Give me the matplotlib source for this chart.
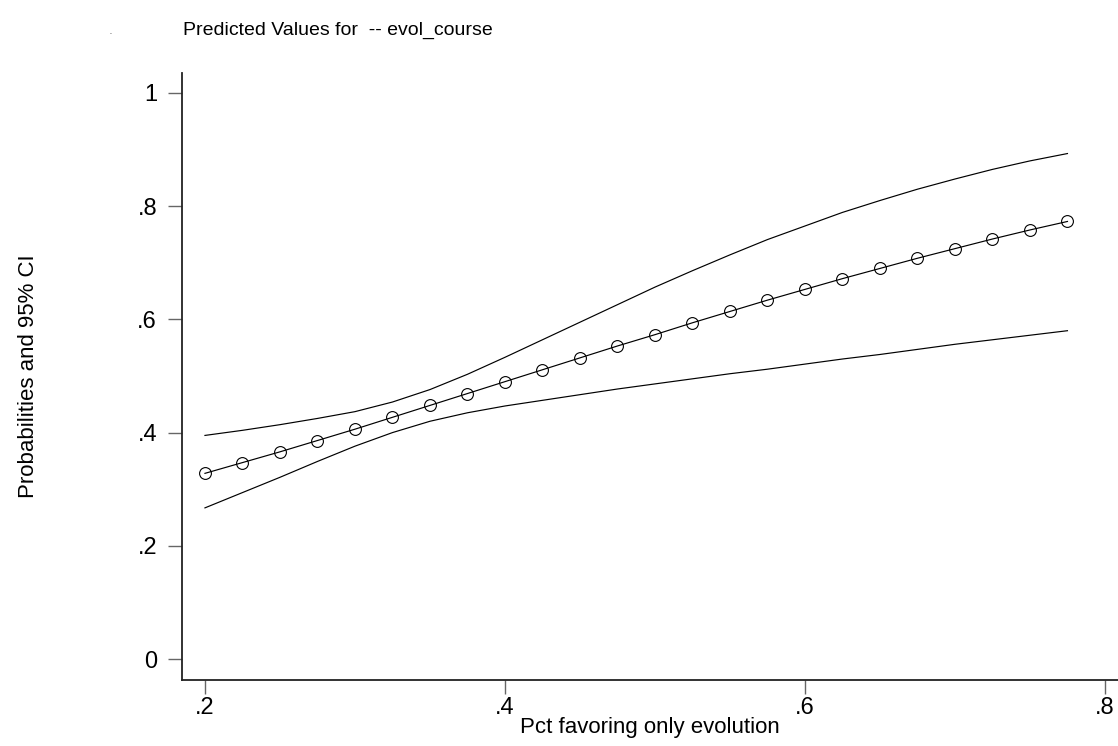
import matplotlib
matplotlib.use("Agg")
import matplotlib.pyplot as plt

plt.rcParams['font.family'] = ['Liberation Sans', 'DejaVu Sans']

# Data
pct_evolution = [0.200, 0.225, 0.250, 0.275, 0.300, 0.325, 0.350, 0.375,
                 0.400, 0.425, 0.450, 0.475, 0.500, 0.525, 0.550, 0.575,
                 0.600, 0.625, 0.650, 0.675, 0.700, 0.725, 0.750, 0.775]
predicted = [0.328, 0.347, 0.366, 0.386, 0.406, 0.427, 0.448, 0.469,
             0.490, 0.511, 0.532, 0.553, 0.573, 0.594, 0.614, 0.634,
             0.653, 0.672, 0.690, 0.708, 0.725, 0.742, 0.758, 0.773]
upper_ci = [0.395, 0.404, 0.414, 0.425, 0.437, 0.454, 0.476, 0.503,
            0.533, 0.564, 0.595, 0.626, 0.657, 0.686, 0.714, 0.741,
            0.765, 0.789, 0.810, 0.830, 0.848, 0.865, 0.880, 0.893]
lower_ci = [0.267, 0.294, 0.321, 0.349, 0.376, 0.400, 0.420, 0.435,
            0.447, 0.457, 0.467, 0.477, 0.486, 0.495, 0.504, 0.512,
            0.521, 0.530, 0.538, 0.547, 0.556, 0.564, 0.572, 0.580]

x_ticks = [0.2, 0.4, 0.6, 0.8]
x_ticklabels = ['.2', '.4', '.6', '.8']
y_ticks = [0, 0.2, 0.4, 0.6, 0.8, 1.0]
y_ticklabels = ['0', '.2', '.4', '.6', '.8', '1']

W, H = 1118, 746
fig = plt.figure(figsize=(W / 100, H / 100), dpi=100)
ax = fig.add_axes([182 / W, 1 - 680 / H, (1118 - 182) / W, (680 - 73) / H])

ax.plot(pct_evolution, upper_ci, color='black', lw=0.85)
ax.plot(pct_evolution, lower_ci, color='black', lw=0.85)
ax.plot(pct_evolution, predicted, color='black', lw=0.85, marker='o',
        markersize=8.5, markerfacecolor='none', markeredgecolor='black',
        markeredgewidth=0.8)

ax.set_xlim(0.1847, 0.8087)
ax.set_ylim(-0.0371, 1.0353)

for s in ['top', 'right']:
    ax.spines[s].set_visible(False)
for s in ['left', 'bottom']:
    ax.spines[s].set_color('#222222')
    ax.spines[s].set_linewidth(1.3)

ax.set_xticks(x_ticks)
ax.set_xticklabels(x_ticklabels)
ax.set_yticks(y_ticks)
ax.set_yticklabels(y_ticklabels)
ax.tick_params(axis='both', direction='out', length=10, width=1.0,
               color='#666666', labelsize=17)
ax.tick_params(axis='x', pad=2)
ax.tick_params(axis='y', pad=8)

ax.set_xlabel('Pct favoring only evolution', fontsize=16, labelpad=-1)
ax.set_ylabel('Probabilities and 95% CI', fontsize=16, labelpad=71)

fig.text(183 / W, 1 - 30 / H, 'Predicted Values for  -- evol_course',
         fontsize=14, ha='left', va='center')
fig.text(110 / W, 1 - 33 / H, '.', fontsize=5, ha='center', va='center')

fig.savefig('out.png', dpi=100)
